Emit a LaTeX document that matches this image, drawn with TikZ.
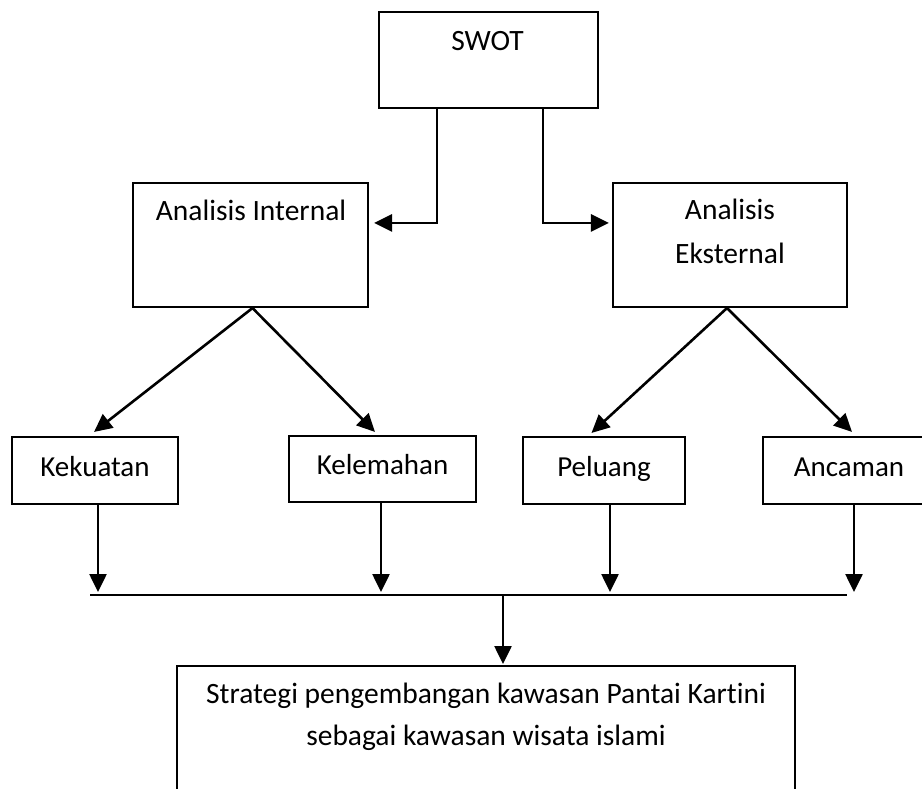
\documentclass[tikz,border=0pt]{standalone}
\usepackage{fontspec}
\setmainfont{Carlito}[Ligatures=NoCommon]
\usetikzlibrary{positioning, calc, arrows.meta}

\tikzset{
  kotak/.style={draw, line width=2.1pt, inner sep=0pt},
  faktor/.style={kotak, minimum height=67pt, font=\fontsize{29}{33}\selectfont,
                 text height=20pt, text depth=9pt},
  teks/.style={anchor=base, inner sep=0pt, font=\fontsize{29.5}{33}\selectfont},
  panah/.style={line width=2.6pt, -{Triangle[length=18pt,width=17pt]}},
}

\begin{document}
\begin{tikzpicture}[x=1pt, y=-1pt]
    % Frame (page is 922 x 789)
    \clip (0,0) rectangle (922,789);

    % SWOT
    \node[kotak, minimum width=219pt, minimum height=96pt] (swot) at (488.5,60) {};
    \node[teks] (swot-t) at (487.5,51) {SWOT};

    % Internal and external analysis
    \node[kotak, minimum width=235pt, minimum height=124pt] (int) at (250.5,245) {};
    \node[teks] (int-t) at (251,221) {Analisis Internal};
    \node[kotak, minimum width=234pt, minimum height=124pt] (ext) at (730,245) {};
    \node[teks] (ext-t1) at (730,220) {Analisis};
    \node[teks] (ext-t2) at (730,263) {Eksternal};

    \draw[panah] ([xshift=-51.5pt]swot.south) |- ([xshift=5pt,yshift=-41pt]int.north east);
    \draw[panah] ([xshift=54.5pt]swot.south) |- ([xshift=-3pt,yshift=-41pt]ext.north west);

    % Strengths, weaknesses, opportunities, threats
    \node[faktor, minimum width=166pt] (kek) at (95,470.5) {Kekuatan};
    \node[faktor, minimum width=187pt, minimum height=66pt] (kel) at (382.5,469) {Kelemahan};
    \node[faktor, minimum width=162pt] (pel) at (604,470.5) {Peluang};
    \node[faktor, minimum width=172pt] (anc) at (849,470.5) {Ancaman};

    \draw[panah] ([xshift=2pt]int.south) -- ([xshift=-1pt,yshift=4pt]kek.north);
    \draw[panah] ([xshift=2pt]int.south) -- ([xshift=-7.5pt,yshift=3pt]kel.north);
    \draw[panah] ([xshift=-3pt]ext.south) -- ([xshift=-12.5pt,yshift=3pt]pel.north);
    \draw[panah] ([xshift=-3pt]ext.south) -- ([xshift=3pt,yshift=4pt]anc.north);

    % Collecting line
    \coordinate (barL) at (90,595);
    \coordinate (barR) at (847,595);
    \coordinate (barM) at (503,595);
    \draw[line width=2.1pt] (barL) -- (barR);

    \foreach \n/\dx in {kek/3, kel/-1.5, pel/6, anc/5}
        \draw[panah, shorten >=3pt] ([xshift=\dx pt]\n.south) -- ([xshift=\dx pt]\n.south |- barL);

    % Strategy
    \node[kotak, anchor=north, minimum width=618pt, minimum height=200pt] (strat) at (486,665) {};
    \node[teks] (strat-t1) at (486,703) {Strategi pengembangan kawasan Pantai Kartini};
    \node[teks] (strat-t2) at (486,745) {sebagai kawasan wisata islami};

    \draw[panah] (barM) -- ([yshift=1pt]barM |- strat.north);
\end{tikzpicture}
\end{document}
